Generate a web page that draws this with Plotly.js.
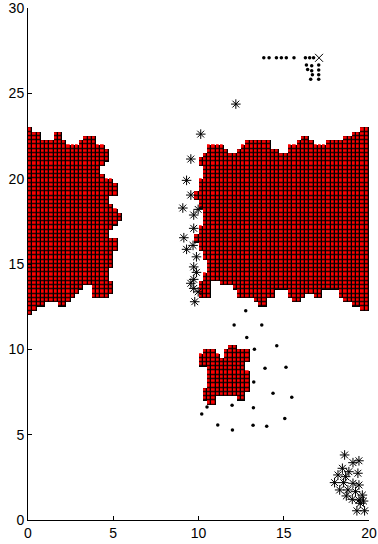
<!DOCTYPE html>
<html><head><meta charset="utf-8">
<script src="https://cdn.plot.ly/plotly-3.0.1.min.js"></script>
<style>html,body{margin:0;padding:0;background:#fff}#chart{width:378px;height:544px}</style>
</head><body><div id="chart"></div>
<script>
// ---- Data ----
const CELL = 0.25;
const xTicks = [0, 5, 10, 15, 20];
const yTicks = [0, 5, 10, 15, 20, 25, 30];

// Left blob (columns start at x=0)
const leftX0 = 0;
const leftColTop = [23.0,22.75,22.75,22.25,22.25,22.25,22.75,22.75,22.25,22.0,22.0,22.0,22.25,22.5,22.5,22.5,22.0,22.0,21.75,21.75,21.75,21.75];
const leftColBot = [12.0,12.25,12.5,12.5,12.75,12.75,12.75,12.5,12.5,12.75,13.0,13.25,13.5,13.75,13.75,13.0,13.0,13.0,13.0,13.25,13.25,13.25];
const leftRowLo = [21.75,21.0,20.75,20.25,20.0,19.75,19.0,18.5,18.25,18.0,17.5,17.25,17.0,16.5,15.75,14.75,14.0,12.0];
const leftRowHi = [23.0,21.75,21.0,20.75,20.25,20.0,19.75,19.0,18.5,18.25,18.0,17.5,17.25,17.0,16.5,15.75,14.75,14.0];
const leftRowL  = [0,0,0,0,0,0,0,0,0,0,0,0,0,0,0,0,0,0];
const leftRowR  = [4.75,4.75,4.5,4.25,4.5,5.0,5.25,4.75,5.0,5.25,5.5,5.25,5.0,4.75,5.25,5.0,4.75,5.0];

// Right blob (columns start at x=9.75)
const rightX0 = 9.75;
const rightColTop = [21.0,21.25,21.5,22.0,22.0,22.0,22.0,21.75,21.5,21.5,21.75,22.0,22.25,22.25,22.25,22.25,22.25,22.25,21.75,21.75,21.5,21.5,22.0,22.0,22.25,22.5,22.5,22.25,22.0,22.0,22.0,22.25,22.25,22.25,22.25,22.5,22.5,22.75,22.75,23.0,23.0];
const rightColBot = [13.0,13.0,13.0,13.0,14.0,14.0,13.75,13.75,13.75,13.5,13.0,13.0,13.0,13.0,12.75,12.5,12.5,13.0,13.0,13.5,13.5,13.5,13.0,12.75,12.75,13.0,13.25,13.25,13.0,13.0,13.5,13.5,13.5,13.5,13.0,12.75,12.75,12.5,12.5,12.25,12.25];
const rightRowLo = [21.25,20.75,20.0,19.25,18.75,18.25,17.25,16.75,16.25,15.75,15.25,14.5,14.0,12.0];
const rightRowHi = [23.0,21.25,20.75,20.0,19.25,18.75,18.25,17.25,16.75,16.25,15.75,15.25,14.5,14.0];
const rightRowL  = [10.25,10.0,10.25,10.0,9.75,10.0,10.25,10.0,9.75,10.0,10.25,10.5,10.25,10.0];
const rightRowR  = [20,20,20,20,20,20,20,20,20,20,20,20,20,20];

// Small blob (columns start at x=10)
const smallX0 = 10.0;
const smallColTop = [9.75,10.0,10.0,10.0,9.75,9.5,10.0,10.25,10.25,10.0,10.0,10.0];
const smallColBot = [9.0,7.0,6.75,6.75,7.25,7.25,7.25,7.25,7.25,7.0,7.0,7.5];
const smallRowLo = [9.75,9.25,9.0,8.75,7.75,7.5,7.0,6.75];
const smallRowHi = [10.25,9.75,9.25,9.0,8.75,7.75,7.5,7.0];
const smallRowL  = [10.25,10.0,10.0,10.5,10.5,10.25,10.25,10.5];
const smallRowR  = [13.0,13.0,12.75,12.75,13.0,13.0,12.75,12.75];

// Asterisk points
const starX = [10.13,9.55,9.30,9.55,9.08,9.98,9.72,9.72,9.14,9.68,9.30,9.88,9.72,9.88,9.72,9.55,9.72,9.98,9.78,12.19,
  18.57,19.06,19.41,18.44,18.82,19.35,18.18,18.63,17.98,18.51,19.06,19.41,18.28,18.76,19.21,19.61,18.67,19.02,19.41,19.68,19.49,19.29,19.74];
const starY = [22.61,21.15,19.90,19.04,18.28,18.20,17.87,17.09,16.54,16.09,15.86,15.42,14.83,14.51,14.10,13.87,13.57,13.37,12.79,24.37,
  3.81,3.36,3.47,3.03,2.83,2.74,2.64,2.54,2.19,2.19,2.15,2.05,1.76,1.76,1.66,1.46,1.41,1.21,1.17,1.11,0.98,0.54,0.54];

// Dot points
const dotX = [12.77,12.09,13.71,12.83,13.28,14.59,13.90,15.13,13.24,14.37,15.47,10.50,11.97,13.22,10.19,15.06,11.13,11.99,13.20,14.00,
  13.83,14.14,14.57,14.86,15.15,15.60,16.27,16.52,16.75,
  16.33,16.64,17.05,16.40,16.64,17.05,16.68,17.05,16.58,17.05];
const dotY = [12.26,11.42,11.42,10.70,10.00,10.21,8.89,8.95,8.08,7.42,7.19,6.62,6.72,6.58,6.21,5.94,5.57,5.27,5.55,5.49,
  27.08,27.08,27.08,27.08,27.08,27.08,27.08,27.08,27.08,
  26.66,26.62,26.66,26.40,26.32,26.36,26.09,26.09,25.82,25.82];

// Cross point
const crossX = [17.07];
const crossY = [27.08];

// ---- Build cell grid ----
const GX0 = 0, NX = 80;        // x from 0 to 20
const GY0 = 6.5, NY = 67;      // y from 6.5 to 23.25
const gridX = [], gridY = [];
for (let i = 0; i < NX; i++) gridX.push(GX0 + (i + 0.5) * CELL);
for (let j = 0; j < NY; j++) gridY.push(GY0 + (j + 0.5) * CELL);
const zCells = gridY.map(() => gridX.map(() => null));

function blobCells(x0, colTop, colBot, rowLo, rowHi, rowL, rowR) {
  const eps = 1e-6;
  for (let i = 0; i < colTop.length; i++) {
    const cx = x0 + i * CELL;
    for (let y = colBot[i]; y < colTop[i] - eps; y += CELL) {
      for (let k = 0; k < rowLo.length; k++) {
        if (y >= rowLo[k] - eps && y < rowHi[k] - eps) {
          if (cx >= rowL[k] - eps && cx + CELL <= rowR[k] + eps) {
            const gi = Math.round((cx - GX0) / CELL), gj = Math.round((y - GY0) / CELL);
            if (gi >= 0 && gi < NX && gj >= 0 && gj < NY) zCells[gj][gi] = 1;
          }
          break;
        }
      }
    }
  }
}
blobCells(leftX0, leftColTop, leftColBot, leftRowLo, leftRowHi, leftRowL, leftRowR);
blobCells(rightX0, rightColTop, rightColBot, rightRowLo, rightRowHi, rightRowL, rightRowR);
blobCells(smallX0, smallColTop, smallColBot, smallRowLo, smallRowHi, smallRowL, smallRowR);

const traces = [
  {type: 'heatmap', x: gridX, y: gridY, z: zCells, showscale: false, hoverinfo: 'skip',
   colorscale: [[0, '#000000'], [1, '#000000']], zmin: 0, zmax: 1},
  {type: 'heatmap', x: gridX, y: gridY, z: zCells, showscale: false, hoverinfo: 'skip',
   colorscale: [[0, '#ff0000'], [1, '#ff0000']], zmin: 0, zmax: 1, xgap: 1.3, ygap: 1.3},
  {type: 'scatter', mode: 'markers', x: starX, y: starY, hoverinfo: 'skip',
   marker: {symbol: 'asterisk-open', size: 8, color: '#000', line: {color: '#000', width: 1}}},
  {type: 'scatter', mode: 'markers', x: dotX, y: dotY, hoverinfo: 'skip',
   marker: {symbol: 'circle', size: 3.5, color: '#000', line: {width: 0}}},
  {type: 'scatter', mode: 'markers', x: crossX, y: crossY, hoverinfo: 'skip',
   marker: {symbol: 'x-thin-open', size: 8, color: '#000', line: {color: '#000', width: 1}}}
];

const axisCommon = {
  showgrid: false, zeroline: false, showline: true, linecolor: '#000', linewidth: 1,
  ticks: 'inside', ticklen: 4, tickcolor: '#000', tickwidth: 1, mirror: false,
  ticklabeloverflow: 'allow',
  tickfont: {family: 'Liberation Sans, Arial, sans-serif', size: 14, color: '#000'}
};
const layout = {
  width: 378, height: 544,
  margin: {l: 28, r: 9, t: 8, b: 24, pad: 0},
  paper_bgcolor: '#fff', plot_bgcolor: '#fff',
  showlegend: false,
  xaxis: Object.assign({}, axisCommon, {range: [0, 20], tickvals: xTicks, ticktext: xTicks.map(String)}),
  yaxis: Object.assign({}, axisCommon, {range: [0, 30], tickvals: yTicks, ticktext: yTicks.map(String)})
};
Plotly.newPlot('chart', traces, layout, {staticPlot: true, displayModeBar: false});
</script></body></html>
